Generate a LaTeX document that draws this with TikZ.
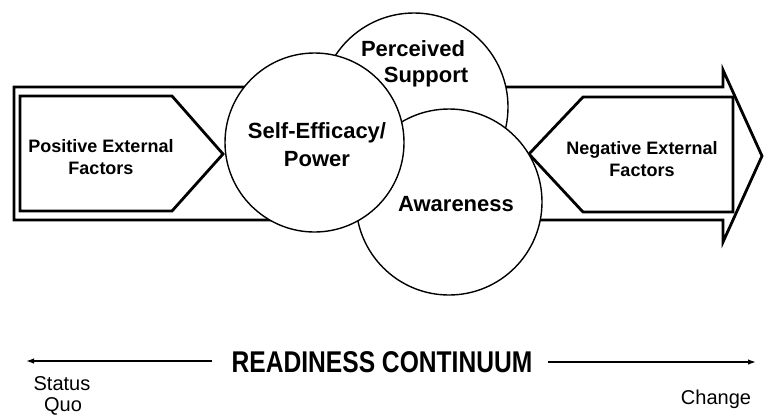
\documentclass[tikz,border=0pt]{standalone}
\usepackage{fontspec}
\setmainfont{Liberation Sans}
\newfontfamily\narrowfont[FakeStretch=0.82]{Liberation Sans}
\usetikzlibrary{arrows.meta}
\begin{document}
\begin{tikzpicture}[x=1pt,y=-1pt,
  thickline/.style={line width=2.8pt, line join=miter},
  circ/.style={circle, draw, line width=1.4pt, fill=white, minimum size=#1, inner sep=0pt},
  boxtext/.style={font=\bfseries\fontsize{18}{22}\selectfont, align=center, inner sep=0pt},
  circtext/.style={font=\bfseries\fontsize{22}{27}\selectfont, align=center, inner sep=0pt},
  lbl/.style={font=\fontsize{20}{26}\selectfont, inner sep=0pt},
  thin/.style={line width=1.4pt, -{Latex[length=8pt,width=5.5pt]}}]
\useasboundingbox (0,0) rectangle (765,416);
% big arrow
\draw[thickline] (723,87) -- (14,87) -- (14,220) -- (723,220) -- (723,242) -- (762,156) -- (723,70) -- cycle;
% inner pentagons
\draw[thickline] (20,96) -- (172,96) -- (223,154) -- (172,211) -- (20,211) -- cycle;
\draw[thickline] (733,97) -- (583,97) -- (529,154) -- (583,212) -- (733,212) -- cycle;
\node[boxtext] (pos) at (101,157) {Positive External\\Factors};
\node[boxtext] (neg) at (642,159) {Negative External\\Factors};
% circles
\node[circ=188pt] (ps) at (414,107) {};
\node[circ=186pt] (aw) at (449,202) {};
\node[circ=179pt, circtext] (se) at (314.5,142.5) {};
\node[circtext, anchor=base] (pst1) at (413,56) {Perceived};
\node[circtext, anchor=base] (pst2) at (426,82) {Support};
\node[circtext, anchor=base] (awt) at (456,211) {Awareness};
\node[circtext, anchor=base] (set1) at (317,138) {Self-Efficacy/};
\node[circtext, anchor=base] (set2) at (317,166) {Power};
% continuum
\node[font=\narrowfont\bfseries\fontsize{30}{34}\selectfont, inner sep=0pt, anchor=base] (rc) at (382,372) {READINESS CONTINUUM};
\coordinate (l1) at (212,361);
\coordinate (l2) at (26,361);
\coordinate (r1) at (548,362);
\coordinate (r2) at (756,362);
\draw[thin] (l1) -- (l2);
\draw[thin] (r1) -- (r2);
\node[lbl, anchor=base] (sq1) at (62,390) {Status};
\node[lbl, anchor=base] (sq2) at (63,411) {Quo};
\node[lbl, anchor=base] (ch) at (716,404) {Change};
\end{tikzpicture}
\end{document}
